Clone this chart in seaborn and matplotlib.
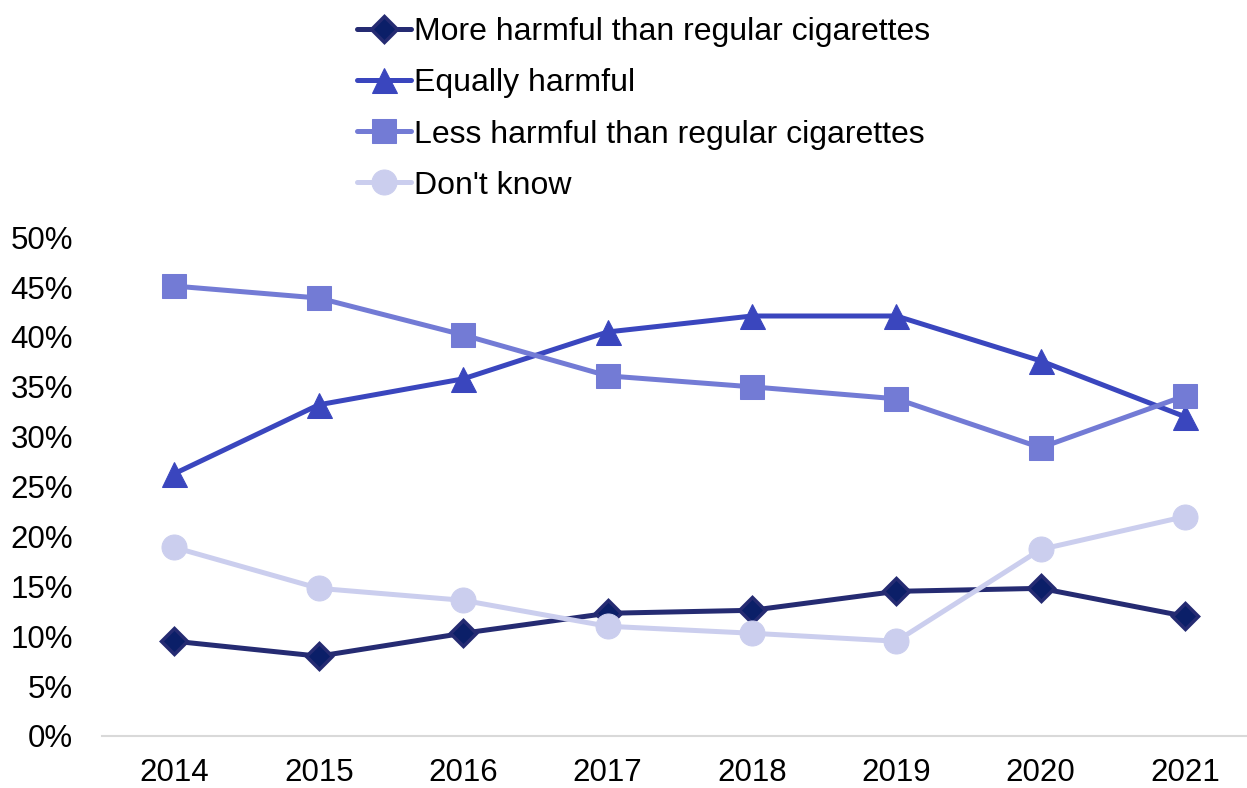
import pandas as pd
import matplotlib.pyplot as plt
import seaborn as sns
from matplotlib.ticker import PercentFormatter

years = ["2014", "2015", "2016", "2017", "2018", "2019", "2020", "2021"]
more_harmful = [9.5, 8.0, 10.3, 12.3, 12.6, 14.5, 14.8, 12.0]
equally_harmful = [26.3, 33.2, 35.8, 40.5, 42.1, 42.1, 37.6, 32.0]
less_harmful = [45.1, 43.9, 40.2, 36.1, 35.0, 33.8, 28.9, 34.1]
dont_know = [18.9, 14.8, 13.6, 11.0, 10.3, 9.5, 18.7, 22.0]

series = {
    "More harmful than regular cigarettes": more_harmful,
    "Equally harmful": equally_harmful,
    "Less harmful than regular cigarettes": less_harmful,
    "Don't know": dont_know,
}
styles = {
    "More harmful than regular cigarettes": dict(color="#252B72", marker="D", markersize=13,
                                                 markerfacecolor="#0B1F68", markeredgecolor="#252B72",
                                                 markeredgewidth=2.5),
    "Equally harmful": dict(color="#3A46BE", marker="^", markersize=18,
                            markerfacecolor="#3A46BE", markeredgecolor="#3A46BE"),
    "Less harmful than regular cigarettes": dict(color="#737BD5", marker="s", markersize=17,
                                                 markerfacecolor="#737BD5", markeredgecolor="#737BD5"),
    "Don't know": dict(color="#CBCEEE", marker="o", markersize=18,
                       markerfacecolor="#CBCEEE", markeredgecolor="#CBCEEE"),
}

sns.set_style("white")
plt.rcParams["font.family"] = ["Liberation Sans", "DejaVu Sans"]
plt.rcParams["text.color"] = "black"

fig = plt.figure(figsize=(12.47, 7.88), dpi=100)
ax = fig.add_axes([0.082, 0.066, 0.917, 0.633])

for name, vals in series.items():
    df = pd.DataFrame({"year": years, "value": vals})
    sns.lineplot(data=df, x="year", y="value", ax=ax, label=name, linewidth=3.6,
                 sort=False, **styles[name])

ax.set_ylim(0, 50)
ax.set_xlim(-0.5, 7.42)
ax.set_yticks(range(0, 51, 5))
ax.yaxis.set_major_formatter(PercentFormatter(decimals=0))
ax.set_xlabel("")
ax.set_ylabel("")
ax.tick_params(axis="both", labelsize=22.5, length=0, colors="black")
ax.tick_params(axis="x", pad=15.5)
ax.tick_params(axis="y", pad=21)
for side in ["top", "right", "left"]:
    ax.spines[side].set_visible(False)
ax.spines["bottom"].set_color("#D9D9D9")
ax.spines["bottom"].set_linewidth(1.5)

leg = ax.legend(loc="upper left", bbox_to_anchor=(0.286, 0.978), bbox_transform=fig.transFigure,
                frameon=False, fontsize=23, handlelength=1.7, handletextpad=0.1,
                labelspacing=0.66, borderaxespad=0, borderpad=0)
for t in leg.get_texts():
    t.set_color("black")

plt.savefig("out.png", dpi=100)
plt.close()
